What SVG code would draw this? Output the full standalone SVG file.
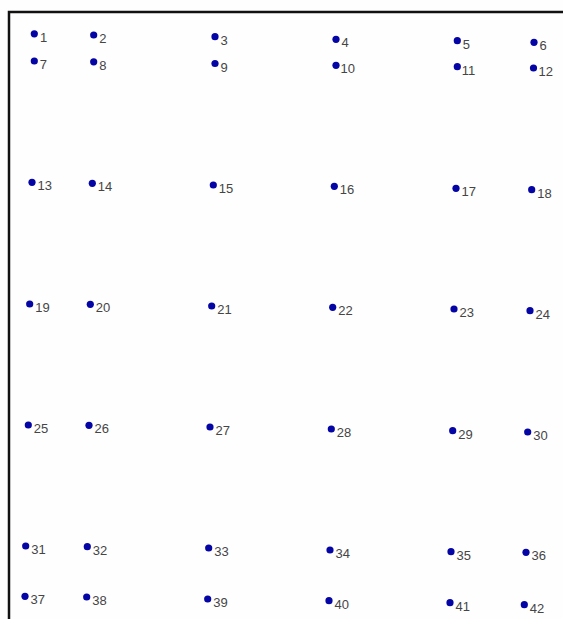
<svg xmlns="http://www.w3.org/2000/svg" width="563" height="619" viewBox="0 0 563 619">
<style>
.d{fill:#0505a5;}
.t{font-family:"Liberation Sans",Arial,sans-serif;font-size:13px;fill:#454545;}
.b{fill:none;stroke:#111;stroke-width:2.5;}
</style>
<rect width="563" height="619" fill="#fefefe"/>
<path class="b" d="M9,619 V12 H563"/>
<g id="connectors"></g>
<g id="n1"><circle class="d" cx="34.3" cy="33.8" r="3.6"/><text class="t" x="40" y="42">1</text></g>
<g id="n2"><circle class="d" cx="93.7" cy="35" r="3.6"/><text class="t" x="99.2" y="43">2</text></g>
<g id="n3"><circle class="d" cx="215" cy="36.7" r="3.6"/><text class="t" x="220.5" y="44.7">3</text></g>
<g id="n4"><circle class="d" cx="336" cy="39.3" r="3.6"/><text class="t" x="341.5" y="47.3">4</text></g>
<g id="n5"><circle class="d" cx="457.3" cy="40.7" r="3.6"/><text class="t" x="462.8" y="48.7">5</text></g>
<g id="n6"><circle class="d" cx="534" cy="42.3" r="3.6"/><text class="t" x="539.5" y="50.3">6</text></g>
<g id="n7"><circle class="d" cx="34.3" cy="61" r="3.6"/><text class="t" x="39.8" y="69">7</text></g>
<g id="n8"><circle class="d" cx="93.7" cy="61.8" r="3.6"/><text class="t" x="99.2" y="69.8">8</text></g>
<g id="n9"><circle class="d" cx="215" cy="63.5" r="3.6"/><text class="t" x="220.5" y="71.5">9</text></g>
<g id="n10"><circle class="d" cx="336" cy="65.3" r="3.6"/><text class="t" x="340.5" y="73.3">10</text></g>
<g id="n11"><circle class="d" cx="457.3" cy="66.7" r="3.6"/><text class="t" x="461.8" y="74.7">11</text></g>
<g id="n12"><circle class="d" cx="533.5" cy="68" r="3.6"/><text class="t" x="538.5" y="76">12</text></g>
<g id="n13"><circle class="d" cx="32" cy="182.3" r="3.6"/><text class="t" x="37.5" y="190.3">13</text></g>
<g id="n14"><circle class="d" cx="92.3" cy="183.3" r="3.6"/><text class="t" x="97.8" y="191.3">14</text></g>
<g id="n15"><circle class="d" cx="213.3" cy="185" r="3.6"/><text class="t" x="218.8" y="193">15</text></g>
<g id="n16"><circle class="d" cx="334.3" cy="186.3" r="3.6"/><text class="t" x="339.8" y="194.3">16</text></g>
<g id="n17"><circle class="d" cx="456" cy="188.3" r="3.6"/><text class="t" x="461.5" y="196.3">17</text></g>
<g id="n18"><circle class="d" cx="531.7" cy="189.7" r="3.6"/><text class="t" x="537.2" y="197.7">18</text></g>
<g id="n19"><circle class="d" cx="29.7" cy="304" r="3.6"/><text class="t" x="35.2" y="312">19</text></g>
<g id="n20"><circle class="d" cx="90.3" cy="304.3" r="3.6"/><text class="t" x="95.8" y="312.3">20</text></g>
<g id="n21"><circle class="d" cx="211.7" cy="306" r="3.6"/><text class="t" x="217.2" y="314">21</text></g>
<g id="n22"><circle class="d" cx="332.7" cy="307.3" r="3.6"/><text class="t" x="338.2" y="315.3">22</text></g>
<g id="n23"><circle class="d" cx="454" cy="309" r="3.6"/><text class="t" x="459.5" y="317">23</text></g>
<g id="n24"><circle class="d" cx="530" cy="310.7" r="3.6"/><text class="t" x="535.5" y="318.7">24</text></g>
<g id="n25"><circle class="d" cx="28.3" cy="425" r="3.6"/><text class="t" x="33.8" y="433">25</text></g>
<g id="n26"><circle class="d" cx="89" cy="425.3" r="3.6"/><text class="t" x="94.5" y="433.3">26</text></g>
<g id="n27"><circle class="d" cx="210" cy="427" r="3.6"/><text class="t" x="215.5" y="435">27</text></g>
<g id="n28"><circle class="d" cx="331.3" cy="429" r="3.6"/><text class="t" x="336.8" y="437">28</text></g>
<g id="n29"><circle class="d" cx="452.7" cy="430.7" r="3.6"/><text class="t" x="458.2" y="438.7">29</text></g>
<g id="n30"><circle class="d" cx="527.7" cy="432" r="3.6"/><text class="t" x="533.2" y="440">30</text></g>
<g id="n31"><circle class="d" cx="25.7" cy="546" r="3.6"/><text class="t" x="31.2" y="554">31</text></g>
<g id="n32"><circle class="d" cx="87.3" cy="546.7" r="3.6"/><text class="t" x="92.8" y="554.7">32</text></g>
<g id="n33"><circle class="d" cx="208.7" cy="548" r="3.6"/><text class="t" x="214.2" y="556">33</text></g>
<g id="n34"><circle class="d" cx="330" cy="550" r="3.6"/><text class="t" x="335.5" y="558">34</text></g>
<g id="n35"><circle class="d" cx="451" cy="551.7" r="3.6"/><text class="t" x="456.5" y="559.7">35</text></g>
<g id="n36"><circle class="d" cx="526" cy="552.3" r="3.6"/><text class="t" x="531.5" y="560.3">36</text></g>
<g id="n37"><circle class="d" cx="25" cy="596.3" r="3.6"/><text class="t" x="30.5" y="604.3">37</text></g>
<g id="n38"><circle class="d" cx="86.7" cy="597" r="3.6"/><text class="t" x="92.2" y="605">38</text></g>
<g id="n39"><circle class="d" cx="207.7" cy="599" r="3.6"/><text class="t" x="213.2" y="607">39</text></g>
<g id="n40"><circle class="d" cx="329" cy="600.7" r="3.6"/><text class="t" x="334.5" y="608.7">40</text></g>
<g id="n41"><circle class="d" cx="450" cy="602.7" r="3.6"/><text class="t" x="455.5" y="610.7">41</text></g>
<g id="n42"><circle class="d" cx="524.3" cy="604.7" r="3.6"/><text class="t" x="529.8" y="612.7">42</text></g>
</svg>
